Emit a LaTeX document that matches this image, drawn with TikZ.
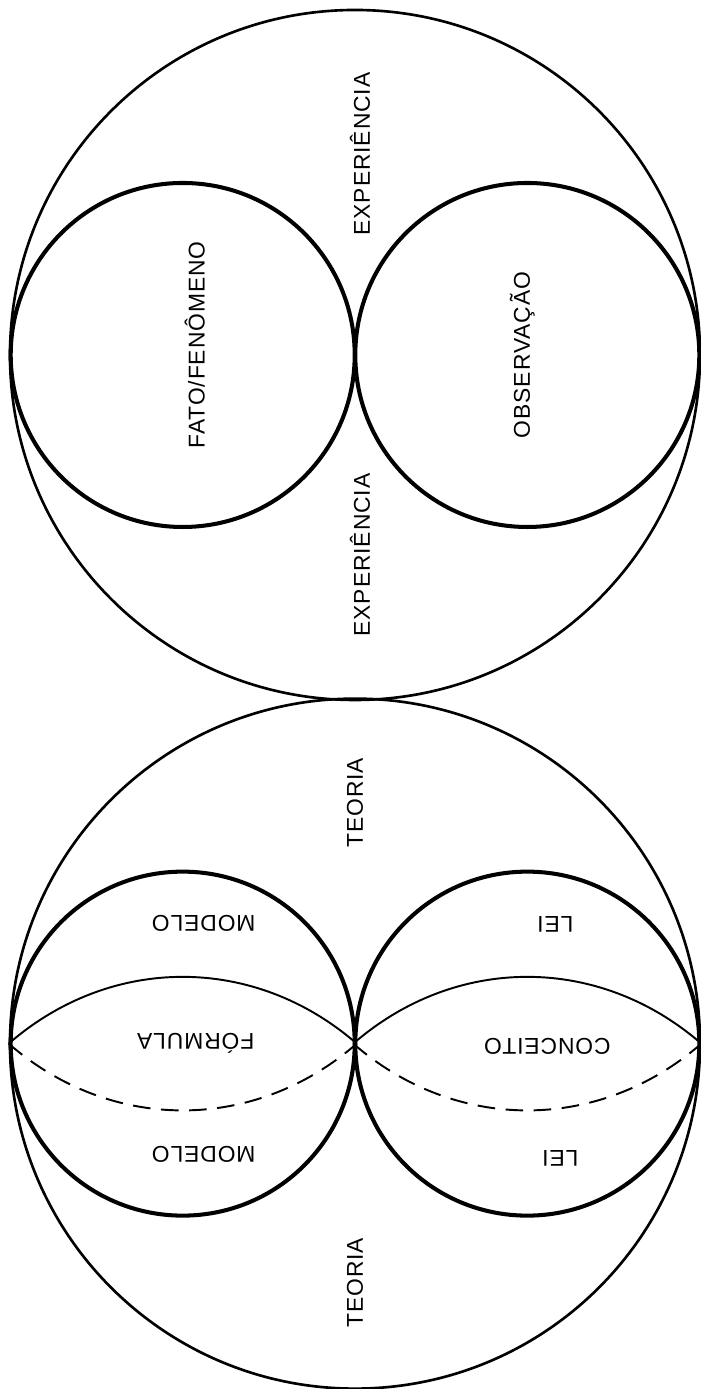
\documentclass[tikz,border=0pt]{standalone}
\usepackage{fontspec}
\newfontfamily\lblfont{Liberation Sans}[LetterSpace=4]
\usetikzlibrary{positioning, calc}

\begin{document}
\begin{tikzpicture}[world/.style = {draw, circle, line width = 1.5pt, minimum size = 13.8cm, inner sep = 0pt},
  part/.style = {draw, circle, line width = 2.3pt, minimum size = 6.88cm, inner sep = 0pt},
  word/.style = {font = \lblfont\fontsize{13pt}{15pt}\selectfont, inner sep = 1pt},
  lens/.style = {line width = 1.1pt}]

  \useasboundingbox (0,0) rectangle (14,27.78);

  % big circles
  \node [world] (exp) at (7.1, 20.68) {};
  \node [world] [below = -0.08cm of exp] (teo) {};

  % inner circles
  \node [part] [right = 0pt of exp.west] (fato) {};
  \node [part] [left = 0pt of exp.east] (obs) {};
  \node [part] [right = 0pt of teo.west] (mod) {};
  \node [part] [left = 0pt of teo.east] (lei) {};

  % lens lines
  \draw [lens] (mod.west) to [bend left = 41] (mod.east);
  \draw [lens, dash pattern = on 10pt off 6pt] (mod.west) to [bend right = 41] (mod.east);
  \draw [lens] (lei.west) to [bend left = 41] (lei.east);
  \draw [lens, dash pattern = on 10pt off 6pt] (lei.west) to [bend right = 41] (lei.east);

  % experience
  \node [word, rotate = 90] (exp-top) at ($(exp.center) + (0.1, 4.02)$) {EXPERIÊNCIA};
  \node [word, rotate = 90] (exp-bottom) at ($(exp.center) + (0.1, -4.0)$) {EXPERIÊNCIA};
  \node [word, rotate = 90] (fato-label) at ($(fato.center) + (0.24, 0.2)$) {FATO/FENÔMENO};
  \node [word, rotate = 90] (obs-label) at ($(obs.center) + (-0.1, 0)$) {OBSERVAÇÃO};

  % theory
  \node [word, rotate = 90] (teo-top) at ($(teo.center) + (0, 4.82)$) {TEORIA};
  \node [word, rotate = 90] (teo-bottom) at ($(teo.center) + (0, -4.78)$) {TEORIA};
  \node [word, rotate = 180] (mod-top) at ($(mod.center) + (0.42, 2.4)$) {MODELO};
  \node [word, rotate = 180] (form) at ($(mod.center) + (0.26, 0)$) {FÓRMULA};
  \node [word, rotate = 180] (mod-bottom) at ($(mod.center) + (0.42, -2.22)$) {MODELO};
  \node [word, rotate = 180] (lei-top) at ($(lei.center) + (0.56, 2.38)$) {LEI};
  \node [word, rotate = 180] (conc) at ($(lei.center) + (0.4, -0.06)$) {CONCEITO};
  \node [word, rotate = 180] (lei-bottom) at ($(lei.center) + (0.66, -2.3)$) {LEI};

\end{tikzpicture}
\end{document}
